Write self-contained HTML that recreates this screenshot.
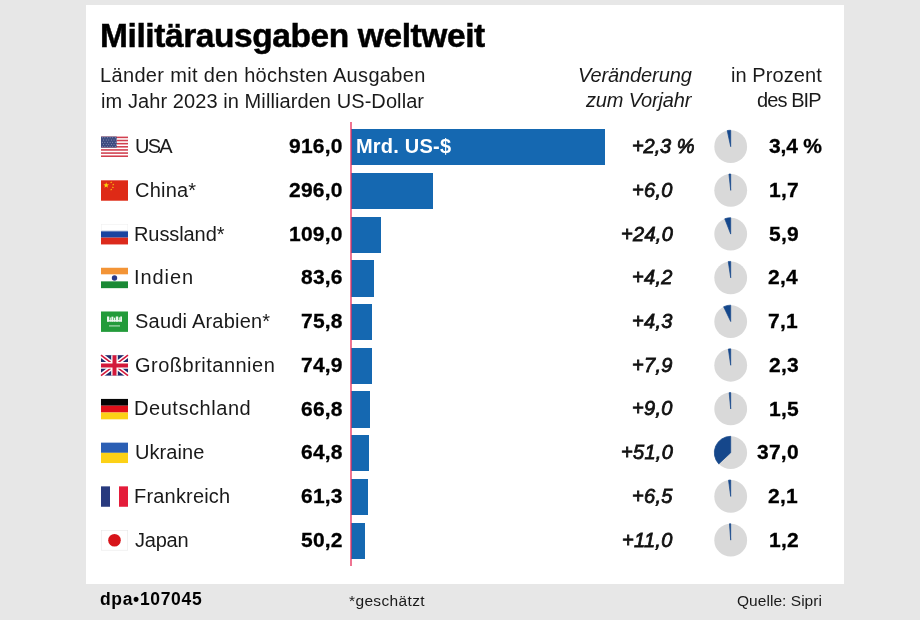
<!DOCTYPE html>
<html><head><meta charset="utf-8"><title>Militärausgaben weltweit</title>
<style>
html,body{margin:0;padding:0;}
body{width:920px;height:620px;background:#e7e7e7;position:relative;overflow:hidden;font-family:"Liberation Sans", sans-serif;}
.card{position:absolute;left:86px;top:5px;width:758px;height:579px;background:#fff;}
.t{position:absolute;white-space:nowrap;line-height:1;will-change:transform;}
.bar{position:absolute;left:351.2px;height:36.3px;background:#1568b1;}
.redline{position:absolute;left:350.3px;top:122px;width:1.5px;height:443.5px;background:rgba(232,50,95,0.68);}
svg{position:absolute;left:0;top:0;}
</style></head>
<body>
<div class="card"></div>
<div class='bar' style='top:129.10px;width:253.70px'></div>
<div class='bar' style='top:172.82px;width:81.98px'></div>
<div class='bar' style='top:216.54px;width:30.19px'></div>
<div class='bar' style='top:260.26px;width:23.15px'></div>
<div class='bar' style='top:303.98px;width:20.99px'></div>
<div class='bar' style='top:347.70px;width:20.74px'></div>
<div class='bar' style='top:391.42px;width:18.50px'></div>
<div class='bar' style='top:435.14px;width:17.95px'></div>
<div class='bar' style='top:478.86px;width:16.98px'></div>
<div class='bar' style='top:522.58px;width:13.90px'></div>
<div class="redline"></div>
<svg width="920" height="620" viewBox="0 0 920 620">
<g transform='translate(101,136.60)'><rect width='27' height='20.4' fill='#fff'/><rect y='0.000' width='27' height='1.569' fill='#d1404f'/><rect y='3.138' width='27' height='1.569' fill='#d1404f'/><rect y='6.277' width='27' height='1.569' fill='#d1404f'/><rect y='9.415' width='27' height='1.569' fill='#d1404f'/><rect y='12.554' width='27' height='1.569' fill='#d1404f'/><rect y='15.692' width='27' height='1.569' fill='#d1404f'/><rect y='18.831' width='27' height='1.569' fill='#d1404f'/><rect width='15.66' height='10.985' fill='#3d4b80'/><circle cx='1.30' cy='1.20' r='0.45' fill='#c8cde0'/><circle cx='3.90' cy='1.20' r='0.45' fill='#c8cde0'/><circle cx='6.50' cy='1.20' r='0.45' fill='#c8cde0'/><circle cx='9.10' cy='1.20' r='0.45' fill='#c8cde0'/><circle cx='11.70' cy='1.20' r='0.45' fill='#c8cde0'/><circle cx='14.30' cy='1.20' r='0.45' fill='#c8cde0'/><circle cx='2.60' cy='3.40' r='0.45' fill='#c8cde0'/><circle cx='5.20' cy='3.40' r='0.45' fill='#c8cde0'/><circle cx='7.80' cy='3.40' r='0.45' fill='#c8cde0'/><circle cx='10.40' cy='3.40' r='0.45' fill='#c8cde0'/><circle cx='13.00' cy='3.40' r='0.45' fill='#c8cde0'/><circle cx='15.60' cy='3.40' r='0.45' fill='#c8cde0'/><circle cx='1.30' cy='5.60' r='0.45' fill='#c8cde0'/><circle cx='3.90' cy='5.60' r='0.45' fill='#c8cde0'/><circle cx='6.50' cy='5.60' r='0.45' fill='#c8cde0'/><circle cx='9.10' cy='5.60' r='0.45' fill='#c8cde0'/><circle cx='11.70' cy='5.60' r='0.45' fill='#c8cde0'/><circle cx='14.30' cy='5.60' r='0.45' fill='#c8cde0'/><circle cx='2.60' cy='7.80' r='0.45' fill='#c8cde0'/><circle cx='5.20' cy='7.80' r='0.45' fill='#c8cde0'/><circle cx='7.80' cy='7.80' r='0.45' fill='#c8cde0'/><circle cx='10.40' cy='7.80' r='0.45' fill='#c8cde0'/><circle cx='13.00' cy='7.80' r='0.45' fill='#c8cde0'/><circle cx='15.60' cy='7.80' r='0.45' fill='#c8cde0'/><circle cx='1.30' cy='10.00' r='0.45' fill='#c8cde0'/><circle cx='3.90' cy='10.00' r='0.45' fill='#c8cde0'/><circle cx='6.50' cy='10.00' r='0.45' fill='#c8cde0'/><circle cx='9.10' cy='10.00' r='0.45' fill='#c8cde0'/><circle cx='11.70' cy='10.00' r='0.45' fill='#c8cde0'/><circle cx='14.30' cy='10.00' r='0.45' fill='#c8cde0'/></g><g transform='translate(101,180.32)'><rect width='27' height='20.4' fill='#de2a16'/><polygon points='5.20,2.00 5.91,4.03 8.05,4.07 6.34,5.37 6.96,7.43 5.20,6.20 3.44,7.43 4.06,5.37 2.35,4.07 4.49,4.03' fill='#fbd60c'/><polygon points='10.20,0.90 10.46,1.64 11.25,1.66 10.62,2.14 10.85,2.89 10.20,2.44 9.55,2.89 9.78,2.14 9.15,1.66 9.94,1.64' fill='#fbd60c'/><polygon points='12.20,3.10 12.46,3.84 13.25,3.86 12.62,4.34 12.85,5.09 12.20,4.64 11.55,5.09 11.78,4.34 11.15,3.86 11.94,3.84' fill='#fbd60c'/><polygon points='11.90,6.00 12.16,6.74 12.95,6.76 12.32,7.24 12.55,7.99 11.90,7.54 11.25,7.99 11.48,7.24 10.85,6.76 11.64,6.74' fill='#fbd60c'/><polygon points='10.20,8.20 10.46,8.94 11.25,8.96 10.62,9.44 10.85,10.19 10.20,9.74 9.55,10.19 9.78,9.44 9.15,8.96 9.94,8.94' fill='#fbd60c'/></g><g transform='translate(101,224.04)'><rect width='27' height='6.800' fill='#fff'/><rect y='6.800' width='27' height='6.800' fill='#1a44a0'/><rect y='13.600' width='27' height='6.800' fill='#dc2a1c'/><rect x='0.25' y='0.25' width='26.5' height='6.800' fill='none' stroke='#eee' stroke-width='0.5'/></g><g transform='translate(101,267.76)'><rect width='27' height='6.800' fill='#f39436'/><rect y='6.800' width='27' height='6.800' fill='#fff'/><rect y='13.600' width='27' height='6.800' fill='#1a8a35'/><circle cx='13.50' cy='10.20' r='2.7' fill='#2a3a8a'/></g><g transform='translate(101,311.48)'><rect width='27' height='20.4' fill='#239b3a'/><g fill='#eef7ef'><rect x='6.0' y='5.0' width='2.2' height='5.2'/><rect x='8.8' y='6.0' width='1.0' height='4.2'/><rect x='10.4' y='5.2' width='2.0' height='5.0'/><rect x='13.0' y='6.2' width='1.2' height='4.0'/><rect x='14.8' y='5.0' width='2.4' height='5.2'/><rect x='17.8' y='5.8' width='1.0' height='4.4'/><rect x='19.2' y='5.0' width='1.8' height='5.2'/><rect x='6.0' y='8.6' width='15.0' height='1.4'/></g><rect x='8' y='14.0' width='11' height='0.9' fill='#d8eedc'/></g><g transform='translate(101,355.20)'><rect width='27' height='20.4' fill='#1f2a6b'/><path d='M0,0 L27,20.4 M27,0 L0,20.4' stroke='#fff' stroke-width='4.6'/><path d='M0,0 L27,20.4 M27,0 L0,20.4' stroke='#d3183b' stroke-width='1.6'/><path d='M13.5,0 V20.4 M0,10.2 H27' stroke='#fff' stroke-width='6.6'/><path d='M13.5,0 V20.4 M0,10.2 H27' stroke='#d3183b' stroke-width='4.0'/></g><g transform='translate(101,398.92)'><rect width='27' height='6.800' fill='#050505'/><rect y='6.800' width='27' height='6.800' fill='#e0101a'/><rect y='13.600' width='27' height='6.800' fill='#fcd116'/></g><g transform='translate(101,442.64)'><rect width='27' height='10.200' fill='#2b5fb4'/><rect y='10.200' width='27' height='10.200' fill='#fcd116'/></g><g transform='translate(101,486.36)'><rect width='9.000' height='20.4' fill='#283a7e'/><rect x='9.000' width='9.000' height='20.4' fill='#fff'/><rect x='18.000' width='9.000' height='20.4' fill='#e41c3a'/></g><g transform='translate(101,530.08)'><rect x='0.3' y='0.3' width='26.4' height='19.80' fill='#fff' stroke='#e8e8e8' stroke-width='0.6'/><circle cx='13.50' cy='10.20' r='6.3' fill='#d7141a'/></g>
<circle cx='730.70' cy='146.65' r='16.4' fill='#d9d9d9'/><path d='M730.70,146.65 L730.70,130.25 A16.4,16.4 0 0 0 727.22,130.62 Z' fill='#15478b' stroke='#15478b' stroke-width='0.7' stroke-linejoin='round'/><circle cx='730.70' cy='190.37' r='16.4' fill='#d9d9d9'/><path d='M730.70,190.37 L730.70,173.97 A16.4,16.4 0 0 0 728.95,174.06 Z' fill='#15478b' stroke='#15478b' stroke-width='0.7' stroke-linejoin='round'/><circle cx='730.70' cy='234.09' r='16.4' fill='#d9d9d9'/><path d='M730.70,234.09 L730.70,217.69 A16.4,16.4 0 0 0 724.76,218.80 Z' fill='#15478b' stroke='#15478b' stroke-width='0.7' stroke-linejoin='round'/><circle cx='730.70' cy='277.81' r='16.4' fill='#d9d9d9'/><path d='M730.70,277.81 L730.70,261.41 A16.4,16.4 0 0 0 728.24,261.60 Z' fill='#15478b' stroke='#15478b' stroke-width='0.7' stroke-linejoin='round'/><circle cx='730.70' cy='321.53' r='16.4' fill='#d9d9d9'/><path d='M730.70,321.53 L730.70,305.13 A16.4,16.4 0 0 0 723.62,306.74 Z' fill='#15478b' stroke='#15478b' stroke-width='0.7' stroke-linejoin='round'/><circle cx='730.70' cy='365.25' r='16.4' fill='#d9d9d9'/><path d='M730.70,365.25 L730.70,348.85 A16.4,16.4 0 0 0 728.34,349.02 Z' fill='#15478b' stroke='#15478b' stroke-width='0.7' stroke-linejoin='round'/><circle cx='730.70' cy='408.97' r='16.4' fill='#d9d9d9'/><path d='M730.70,408.97 L730.70,392.57 A16.4,16.4 0 0 0 729.16,392.64 Z' fill='#15478b' stroke='#15478b' stroke-width='0.7' stroke-linejoin='round'/><circle cx='730.70' cy='452.69' r='16.4' fill='#d9d9d9'/><path d='M730.70,452.69 L730.70,436.29 A16.4,16.4 0 0 0 718.74,463.92 Z' fill='#15478b' stroke='#15478b' stroke-width='0.7' stroke-linejoin='round'/><circle cx='730.70' cy='496.41' r='16.4' fill='#d9d9d9'/><path d='M730.70,496.41 L730.70,480.01 A16.4,16.4 0 0 0 728.54,480.15 Z' fill='#15478b' stroke='#15478b' stroke-width='0.7' stroke-linejoin='round'/><circle cx='730.70' cy='540.13' r='16.4' fill='#d9d9d9'/><path d='M730.70,540.13 L730.70,523.73 A16.4,16.4 0 0 0 729.46,523.78 Z' fill='#15478b' stroke='#15478b' stroke-width='0.7' stroke-linejoin='round'/>
</svg>
<div class='t' style='left:100.40px;top:19.14px;font-size:33.5px;font-weight:700;font-style:normal;color:#000;letter-spacing:-0.409px;-webkit-text-stroke:0.5px #000;'>Militärausgaben weltweit</div>
<div class='t' style='left:100.00px;top:65.37px;font-size:20px;font-weight:400;font-style:normal;color:#1a1a1a;letter-spacing:0.345px;'>Länder mit den höchsten Ausgaben</div>
<div class='t' style='left:101.00px;top:91.07px;font-size:20px;font-weight:400;font-style:normal;color:#1a1a1a;letter-spacing:0.083px;'>im Jahr 2023 in Milliarden US-Dollar</div>
<div class='t' style='left:577.60px;top:65.07px;font-size:20px;font-weight:400;font-style:italic;color:#1a1a1a;letter-spacing:-0.110px;'>Veränderung</div>
<div class='t' style='left:585.50px;top:90.37px;font-size:20px;font-weight:400;font-style:italic;color:#1a1a1a;letter-spacing:-0.170px;'>zum Vorjahr</div>
<div class='t' style='left:730.70px;top:65.17px;font-size:20px;font-weight:400;font-style:normal;color:#1a1a1a;letter-spacing:0.078px;'>in Prozent</div>
<div class='t' style='left:757.00px;top:90.27px;font-size:20px;font-weight:400;font-style:normal;color:#1a1a1a;letter-spacing:-0.917px;'>des BIP</div>
<div class='t' style='left:134.60px;top:136.07px;font-size:20px;font-weight:400;font-style:normal;color:#1a1a1a;letter-spacing:-1.800px;'>USA</div>
<div class='t' style='left:289.10px;top:135.22px;font-size:21px;font-weight:700;font-style:normal;color:#000;letter-spacing:0.200px;-webkit-text-stroke:0.3px #000;'>916,0</div>
<div class='t' style='left:631.70px;top:136.07px;font-size:20px;font-weight:400;font-style:italic;color:#111;letter-spacing:-0.080px;-webkit-text-stroke:0.8px #111;'>+2,3 %</div>
<div class='t' style='left:769.00px;top:135.22px;font-size:21px;font-weight:700;font-style:normal;color:#000;letter-spacing:-0.175px;-webkit-text-stroke:0.3px #000;'>3,4 %</div>
<div class='t' style='left:134.60px;top:179.79px;font-size:20px;font-weight:400;font-style:normal;color:#1a1a1a;letter-spacing:0.220px;'>China*</div>
<div class='t' style='left:289.10px;top:178.94px;font-size:21px;font-weight:700;font-style:normal;color:#000;letter-spacing:0.200px;-webkit-text-stroke:0.3px #000;'>296,0</div>
<div class='t' style='left:631.50px;top:179.79px;font-size:20px;font-weight:400;font-style:italic;color:#111;letter-spacing:0.300px;-webkit-text-stroke:0.8px #111;'>+6,0</div>
<div class='t' style='left:768.80px;top:178.94px;font-size:21px;font-weight:700;font-style:normal;color:#000;letter-spacing:0.250px;-webkit-text-stroke:0.3px #000;'>1,7</div>
<div class='t' style='left:133.60px;top:223.51px;font-size:20px;font-weight:400;font-style:normal;color:#1a1a1a;letter-spacing:-0.087px;'>Russland*</div>
<div class='t' style='left:289.10px;top:222.66px;font-size:21px;font-weight:700;font-style:normal;color:#000;letter-spacing:0.200px;-webkit-text-stroke:0.3px #000;'>109,0</div>
<div class='t' style='left:620.50px;top:223.51px;font-size:20px;font-weight:400;font-style:italic;color:#111;letter-spacing:0.300px;-webkit-text-stroke:0.8px #111;'>+24,0</div>
<div class='t' style='left:768.80px;top:222.66px;font-size:21px;font-weight:700;font-style:normal;color:#000;letter-spacing:0.250px;-webkit-text-stroke:0.3px #000;'>5,9</div>
<div class='t' style='left:133.60px;top:267.23px;font-size:20px;font-weight:400;font-style:normal;color:#1a1a1a;letter-spacing:0.920px;'>Indien</div>
<div class='t' style='left:301.10px;top:266.38px;font-size:21px;font-weight:700;font-style:normal;color:#000;letter-spacing:0.200px;-webkit-text-stroke:0.3px #000;'>83,6</div>
<div class='t' style='left:631.50px;top:267.23px;font-size:20px;font-weight:400;font-style:italic;color:#111;letter-spacing:0.300px;-webkit-text-stroke:0.8px #111;'>+4,2</div>
<div class='t' style='left:767.80px;top:266.38px;font-size:21px;font-weight:700;font-style:normal;color:#000;letter-spacing:0.250px;-webkit-text-stroke:0.3px #000;'>2,4</div>
<div class='t' style='left:134.60px;top:310.95px;font-size:20px;font-weight:400;font-style:normal;color:#1a1a1a;letter-spacing:0.215px;'>Saudi Arabien*</div>
<div class='t' style='left:301.10px;top:310.10px;font-size:21px;font-weight:700;font-style:normal;color:#000;letter-spacing:0.200px;-webkit-text-stroke:0.3px #000;'>75,8</div>
<div class='t' style='left:631.50px;top:310.95px;font-size:20px;font-weight:400;font-style:italic;color:#111;letter-spacing:0.300px;-webkit-text-stroke:0.8px #111;'>+4,3</div>
<div class='t' style='left:767.80px;top:310.10px;font-size:21px;font-weight:700;font-style:normal;color:#000;letter-spacing:0.250px;-webkit-text-stroke:0.3px #000;'>7,1</div>
<div class='t' style='left:134.60px;top:354.67px;font-size:20px;font-weight:400;font-style:normal;color:#1a1a1a;letter-spacing:0.492px;'>Großbritannien</div>
<div class='t' style='left:301.10px;top:353.82px;font-size:21px;font-weight:700;font-style:normal;color:#000;letter-spacing:0.200px;-webkit-text-stroke:0.3px #000;'>74,9</div>
<div class='t' style='left:631.50px;top:354.67px;font-size:20px;font-weight:400;font-style:italic;color:#111;letter-spacing:0.300px;-webkit-text-stroke:0.8px #111;'>+7,9</div>
<div class='t' style='left:768.80px;top:353.82px;font-size:21px;font-weight:700;font-style:normal;color:#000;letter-spacing:0.250px;-webkit-text-stroke:0.3px #000;'>2,3</div>
<div class='t' style='left:133.60px;top:398.39px;font-size:20px;font-weight:400;font-style:normal;color:#1a1a1a;letter-spacing:0.550px;'>Deutschland</div>
<div class='t' style='left:301.10px;top:397.54px;font-size:21px;font-weight:700;font-style:normal;color:#000;letter-spacing:0.200px;-webkit-text-stroke:0.3px #000;'>66,8</div>
<div class='t' style='left:631.50px;top:398.39px;font-size:20px;font-weight:400;font-style:italic;color:#111;letter-spacing:0.300px;-webkit-text-stroke:0.8px #111;'>+9,0</div>
<div class='t' style='left:768.80px;top:397.54px;font-size:21px;font-weight:700;font-style:normal;color:#000;letter-spacing:0.250px;-webkit-text-stroke:0.3px #000;'>1,5</div>
<div class='t' style='left:134.60px;top:442.11px;font-size:20px;font-weight:400;font-style:normal;color:#1a1a1a;letter-spacing:0.067px;'>Ukraine</div>
<div class='t' style='left:301.10px;top:441.26px;font-size:21px;font-weight:700;font-style:normal;color:#000;letter-spacing:0.200px;-webkit-text-stroke:0.3px #000;'>64,8</div>
<div class='t' style='left:620.50px;top:442.11px;font-size:20px;font-weight:400;font-style:italic;color:#111;letter-spacing:0.300px;-webkit-text-stroke:0.8px #111;'>+51,0</div>
<div class='t' style='left:756.80px;top:441.26px;font-size:21px;font-weight:700;font-style:normal;color:#000;letter-spacing:0.250px;-webkit-text-stroke:0.3px #000;'>37,0</div>
<div class='t' style='left:133.60px;top:485.83px;font-size:20px;font-weight:400;font-style:normal;color:#1a1a1a;letter-spacing:0.189px;'>Frankreich</div>
<div class='t' style='left:301.10px;top:484.98px;font-size:21px;font-weight:700;font-style:normal;color:#000;letter-spacing:0.200px;-webkit-text-stroke:0.3px #000;'>61,3</div>
<div class='t' style='left:631.50px;top:485.83px;font-size:20px;font-weight:400;font-style:italic;color:#111;letter-spacing:0.300px;-webkit-text-stroke:0.8px #111;'>+6,5</div>
<div class='t' style='left:767.80px;top:484.98px;font-size:21px;font-weight:700;font-style:normal;color:#000;letter-spacing:0.250px;-webkit-text-stroke:0.3px #000;'>2,1</div>
<div class='t' style='left:134.90px;top:529.55px;font-size:20px;font-weight:400;font-style:normal;color:#1a1a1a;letter-spacing:-0.225px;'>Japan</div>
<div class='t' style='left:301.10px;top:528.70px;font-size:21px;font-weight:700;font-style:normal;color:#000;letter-spacing:0.200px;-webkit-text-stroke:0.3px #000;'>50,2</div>
<div class='t' style='left:621.50px;top:529.55px;font-size:20px;font-weight:400;font-style:italic;color:#111;letter-spacing:0.300px;-webkit-text-stroke:0.8px #111;'>+11,0</div>
<div class='t' style='left:768.80px;top:528.70px;font-size:21px;font-weight:700;font-style:normal;color:#000;letter-spacing:0.250px;-webkit-text-stroke:0.3px #000;'>1,2</div>
<div class='t' style='left:356.40px;top:135.77px;font-size:20px;font-weight:700;font-style:normal;color:#fff;letter-spacing:0.213px;'>Mrd. US-$</div>
<div class='t' style='left:99.90px;top:591.48px;font-size:17.5px;font-weight:700;font-style:normal;color:#000;letter-spacing:0.667px;'>dpa•107045</div>
<div class='t' style='left:349.30px;top:593.08px;font-size:15.5px;font-weight:400;font-style:normal;color:#1a1a1a;letter-spacing:0.367px;'>*geschätzt</div>
<div class='t' style='left:736.60px;top:593.08px;font-size:15.5px;font-weight:400;font-style:normal;color:#1a1a1a;letter-spacing:0.042px;'>Quelle: Sipri</div>
</body></html>
